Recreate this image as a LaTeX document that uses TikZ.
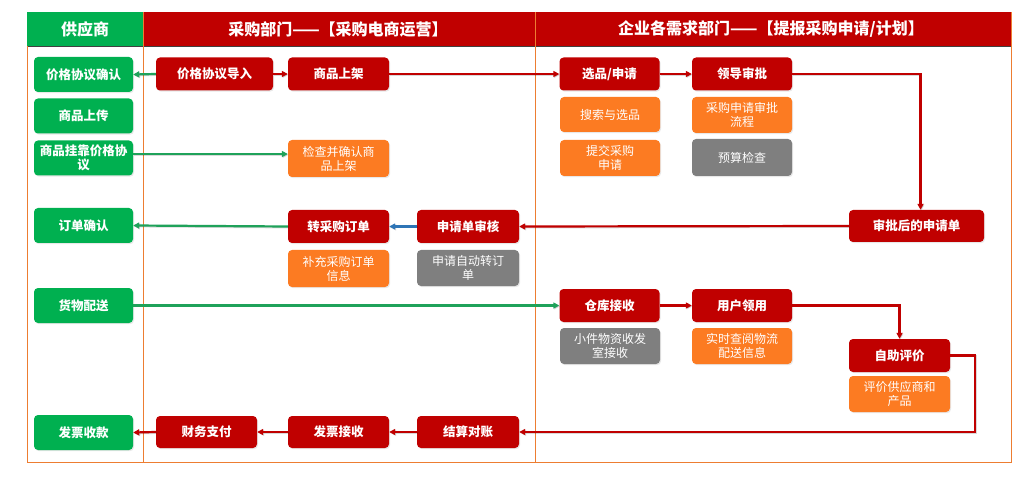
\documentclass[tikz,border=0pt]{standalone}
\usepackage{fontspec}
\setmainfont{Noto Sans CJK SC}
\usetikzlibrary{arrows.meta,shadows}
\definecolor{sgreen}{HTML}{00B050}
\definecolor{dred}{HTML}{C00000}
\definecolor{sorange}{HTML}{FC7B22}
\definecolor{sgray}{HTML}{7F7F7F}
\definecolor{frameor}{HTML}{ED7D31}
\definecolor{lgreen}{HTML}{1FA25A}
\definecolor{lblue}{HTML}{2E75B6}
\begin{document}
\begin{tikzpicture}[x=1pt,y=-1pt,
  box/.style={rectangle, rounded corners=4pt, inner sep=1pt, align=center, text=white,
    font=\fontsize{12}{14}\selectfont,
    drop shadow={shadow xshift=1pt,shadow yshift=-1.2pt,opacity=0.18}},
  mainbox/.style={box, font=\fontsize{12.5}{14}\selectfont\bfseries},
  supbox/.style={mainbox, fill=sgreen, minimum width=99pt, minimum height=35pt},
  redbox/.style={mainbox, fill=dred, minimum height=33pt},
  orbox/.style={box, fill=sorange, minimum height=36pt},
  grbox/.style={box, fill=sgray, minimum height=36pt},
  conn/.style={line width=2.2pt, -{Triangle[length=6pt,width=6pt]},
    preaction={draw=black, opacity=0.15, line width=2.2pt, transform canvas={xshift=0.8pt,yshift=-0.8pt}}},
  redarrow/.style={conn, draw=dred},
  grarrow/.style={conn, draw=lgreen},
  blarrow/.style={conn, draw=lblue},
  headtxt/.style={text=white, font=\fontsize{16}{18}\selectfont\bfseries, inner sep=0pt}
]
\useasboundingbox (0,0) rectangle (1027,478);
% header
\fill[sgreen] (27,12) rectangle (143,46.5);
\fill[dred] (143,12) rectangle (1011,46.5);
\draw[line width=1pt, color=black!75] (27,46.5) -- (1011,46.5);
% frame
\draw[frameor, line width=0.8pt] (27,46.5) -- (27,462) -- (1011,462) -- (1011,12);
\draw[frameor, line width=0.8pt] (143,12) -- (143,462);
\draw[frameor, line width=0.8pt] (535,12) -- (535,462);
\node[headtxt] (h1) at (85,29) {供应商};
\node[headtxt] (h2) at (338,29) {采购部门——【采购电商运营】};
\node[headtxt] (h3) at (771,29) {企业各需求部门——【提报采购申请/计划】};

% supplier column
\node[supbox] (s1) at (83.5,74.5) {价格协议确认};
\node[supbox] (s2) at (83.5,116) {商品上传};
\node[supbox] (s3) at (83.5,158) {商品挂靠价格协\\议};
\node[supbox] (s4) at (83.5,225.5) {订单确认};
\node[supbox] (s5) at (83.5,305.5) {货物配送};
\node[supbox] (s6) at (83.5,432.5) {发票收款};

% purchase column
\node[redbox, minimum width=117pt] (p1) at (214.5,74) {价格协议导入};
\node[redbox, minimum width=101pt] (p2) at (338.5,74) {商品上架};
\node[orbox, minimum width=101pt, minimum height=37pt] (o1) at (338.5,158.5) {检查并确认商\\品上架};
\node[redbox, minimum width=101pt] (p3) at (338.5,226.5) {转采购订单};
\node[orbox, minimum width=101pt, minimum height=37pt] (o2) at (338.5,268.5) {补充采购订单\\信息};
\node[redbox, minimum width=102pt] (p4) at (468,226.5) {申请单审核};
\node[grbox, minimum width=102pt] (g1) at (468,268) {申请自动转订\\单};
\node[redbox, minimum width=101pt, minimum height=32pt] (p5) at (206.5,432) {财务支付};
\node[redbox, minimum width=101pt, minimum height=32pt] (p6) at (338.5,432) {发票接收};
\node[redbox, minimum width=102pt, minimum height=32pt] (p7) at (468,432) {结算对账};

% demand column
\node[redbox, minimum width=100pt] (d1) at (609.5,74) {选品/申请};
\node[redbox, minimum width=100pt] (d2) at (742,74) {领导审批};
\node[orbox, minimum width=100pt, minimum height=35pt] (o3) at (610,114.5) {搜索与选品};
\node[orbox, minimum width=100pt] (o4) at (610,158) {提交采购\\申请};
\node[orbox, minimum width=100pt] (o5) at (742,115) {采购申请审批\\流程};
\node[grbox, minimum width=100pt, minimum height=37pt] (g2) at (742,157.5) {预算检查};
\node[redbox, minimum width=135pt, minimum height=32pt] (d3) at (916.5,226) {审批后的申请单};
\node[redbox, minimum width=100pt] (d4) at (609.5,305.5) {仓库接收};
\node[redbox, minimum width=100pt] (d5) at (742,305.5) {用户领用};
\node[grbox, minimum width=100pt] (g3) at (610,346) {小件物资收发\\室接收};
\node[orbox, minimum width=100pt] (o6) at (742,346) {实时查阅物流\\配送信息};
\node[redbox, minimum width=101pt] (d6) at (899.5,355.5) {自助评价};
\node[orbox, minimum width=101pt] (o7) at (899.5,394) {评价供应商和\\产品};
\coordinate (c1) at (975,400);

% connectors
\draw[grarrow] (p1.west) -- (s1.east);
\draw[redarrow] (p1.east) -- (p2.west);
\draw[redarrow] (p2.east) -- (d1.west);
\draw[redarrow] (d1.east) -- (d2.west);
\draw[redarrow] (d2.east) -| ([xshift=4pt]d3.north);
\draw[redarrow] (d3.west) -- (p4.east);
\draw[blarrow] (p4.west) -- (p3.east);
\draw[grarrow] (p3.west) -- (s4.east);
\draw[grarrow] ([yshift=4pt]s3.east) -- ([yshift=4.5pt]o1.west);
\draw[grarrow] (s5.east) -- (d4.west);
\draw[redarrow] (d4.east) -- (d5.west);
\draw[redarrow] (d5.east) -| (d6.north);
\draw[redarrow] (d6.east) -| (c1) |- (p7.east);
\draw[redarrow] (p7.west) -- (p6.east);
\draw[redarrow] (p6.west) -- (p5.east);
\draw[redarrow] (p5.west) -- (s6.east);
\end{tikzpicture}
\end{document}
